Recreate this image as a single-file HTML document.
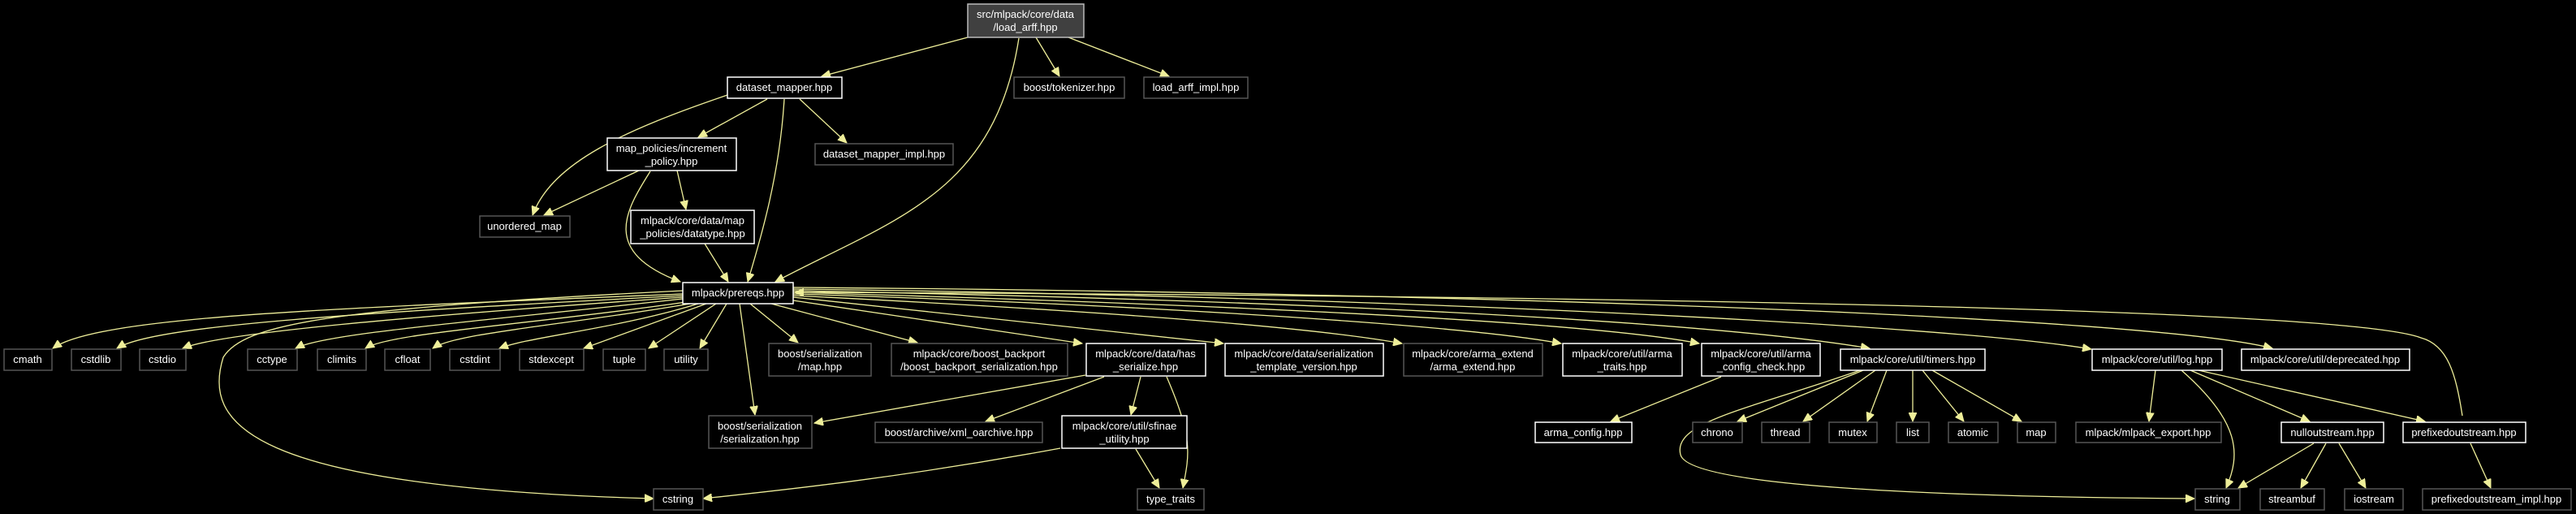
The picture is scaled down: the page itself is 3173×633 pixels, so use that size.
<!DOCTYPE html>
<html><head><meta charset="utf-8"><style>
html,body{margin:0;padding:0;background:#000;}
svg{display:block;}
text{font-family:"Liberation Sans",sans-serif;font-size:13px;fill:#fff;text-anchor:middle;}
.d{fill:#000;stroke:#fff;stroke-width:1.5;}
.u{fill:#000;stroke:#555;stroke-width:1.5;}
path{fill:none;stroke:#eeee99;stroke-width:1.3;}
</style></head><body>
<svg width="3173" height="633" viewBox="0 0 3173 633" xmlns="http://www.w3.org/2000/svg">
<defs><marker id="a" markerUnits="userSpaceOnUse" markerWidth="12" markerHeight="10" refX="11" refY="5" orient="auto"><path d="M0,0 L11,5 L0,10 Z" style="fill:#eeee99;stroke:#eeee99;stroke-width:1"/></marker></defs>
<g marker-end="url(#a)">
<path d="M1192,46 L1012,94"/>
<path d="M1276,46 L1305,94"/>
<path d="M1316,46 L1440,94"/>
<path d="M1255,47 C1225,240 1100,270 955,347"/>
<path d="M896,117 C770,160 680,200 656,265"/>
<path d="M945,122 L860,169"/>
<path d="M966,122 C960,220 935,300 921,347"/>
<path d="M985,122 L1043,176"/>
<path d="M787,210 L670,265"/>
<path d="M801,211 C770,260 740,310 838,347"/>
<path d="M834,210 L845,258"/>
<path d="M868,300 L897,347"/>
<!-- prereqs to row 3 -->
<path d="M841,362 C400,380 120,390 65,429"/>
<path d="M841,364 C450,385 190,400 144,429"/>
<path d="M841,366 C500,390 270,410 225,429"/>
<path d="M841,368 C600,395 400,410 364,429"/>
<path d="M845,372 C650,400 480,410 450,429"/>
<path d="M850,374 C700,400 560,410 533,429"/>
<path d="M860,374 C760,405 650,415 615,429"/>
<path d="M870,374 L719,429"/>
<path d="M882,374 L799,429"/>
<path d="M895,374 L862,429"/>
<path d="M924,374 L983,422"/>
<path d="M950,374 L1130,422"/>
<path d="M977,370 L1333,423"/>
<path d="M977,366 C1200,390 1400,410 1507,423"/>
<path d="M977,364 C1300,380 1600,400 1727,423"/>
<path d="M977,362 C1400,375 1800,400 1923,423"/>
<path d="M977,360 C1500,375 1950,395 2093,423"/>
<path d="M977,358 C1600,370 2100,395 2303,429"/>
<path d="M977,356 C1700,365 2400,400 2576,430"/>
<path d="M977,354 C1800,360 2650,390 2799,429"/>
<path d="M3033,512 C3025,460 3015,425 2982,416 C2900,385 2200,365 979,360"/>
<path d="M841,358 C400,380 300,400 275,440 C250,520 300,600 805,614"/>
<path d="M911,374 L930,511"/>
<!-- row3 to row4 -->
<path d="M1337,462 L1003,521"/>
<path d="M1360,464 L1214,519"/>
<path d="M1405,464 L1393,511"/>
<path d="M1437,464 C1470,540 1465,560 1457,601"/>
<path d="M1306,552 C1100,590 950,605 866,614"/>
<path d="M1399,553 L1428,601"/>
<path d="M2120,464 L1984,519"/>
<path d="M2295,456 L2140,519"/>
<path d="M2310,456 L2221,519"/>
<path d="M2324,456 L2300,519"/>
<path d="M2356,456 L2356,519"/>
<path d="M2368,456 L2419,519"/>
<path d="M2380,456 L2490,519"/>
<path d="M2291,456 C2150,505 2060,520 2070,560 C2080,600 2400,612 2703,614"/>
<path d="M2655,456 L2647,519"/>
<path d="M2687,456 C2760,520 2760,560 2742,601"/>
<path d="M2698,456 L2845,519"/>
<path d="M2708,456 L2987,519"/>
<path d="M2850,546 L2757,601"/>
<path d="M2865,546 L2834,601"/>
<path d="M2881,546 L2914,601"/>
<path d="M3043,546 L3068,601"/>
</g>
<!-- nodes -->
<rect x="1192" y="5" width="143" height="41" style="fill:#404040;stroke:#bbb;stroke-width:1.5"/><text x="1263" y="22">src/mlpack/core/data</text><text x="1263" y="38">/load_arff.hpp</text>
<rect class="d" x="896" y="95" width="141" height="26"/><text x="966" y="112">dataset_mapper.hpp</text>
<rect class="u" x="1249" y="95" width="136" height="26"/><text x="1317" y="112">boost/tokenizer.hpp</text>
<rect class="u" x="1409" y="95" width="128" height="26"/><text x="1473" y="112">load_arff_impl.hpp</text>
<rect class="d" x="748" y="170" width="159" height="40"/><text x="827" y="187">map_policies/increment</text><text x="827" y="203">_policy.hpp</text>
<rect class="u" x="1004" y="177" width="170" height="26"/><text x="1089" y="194">dataset_mapper_impl.hpp</text>
<rect class="u" x="591" y="266" width="111" height="26"/><text x="646" y="283">unordered_map</text>
<rect class="d" x="777" y="259" width="152" height="41"/><text x="853" y="276">mlpack/core/data/map</text><text x="853" y="292">_policies/datatype.hpp</text>
<rect class="d" x="841" y="348" width="136" height="26"/><text x="909" y="365">mlpack/prereqs.hpp</text>
<rect class="u" x="5" y="430" width="59" height="26"/><text x="34" y="447">cmath</text>
<rect class="u" x="88" y="430" width="61" height="26"/><text x="118" y="447">cstdlib</text>
<rect class="u" x="172" y="430" width="57" height="26"/><text x="200" y="447">cstdio</text>
<rect class="u" x="305" y="430" width="61" height="26"/><text x="335" y="447">cctype</text>
<rect class="u" x="391" y="430" width="60" height="26"/><text x="421" y="447">climits</text>
<rect class="u" x="474" y="430" width="56" height="26"/><text x="502" y="447">cfloat</text>
<rect class="u" x="554" y="430" width="62" height="26"/><text x="585" y="447">cstdint</text>
<rect class="u" x="640" y="430" width="79" height="26"/><text x="679" y="447">stdexcept</text>
<rect class="u" x="743" y="430" width="52" height="26"/><text x="769" y="447">tuple</text>
<rect class="u" x="818" y="430" width="54" height="26"/><text x="845" y="447">utility</text>
<rect class="u" x="947" y="423" width="126" height="40"/><text x="1010" y="440">boost/serialization</text><text x="1010" y="456">/map.hpp</text>
<rect class="u" x="1098" y="423" width="217" height="40"/><text x="1206" y="440">mlpack/core/boost_backport</text><text x="1206" y="456">/boost_backport_serialization.hpp</text>
<rect class="d" x="1338" y="423" width="147" height="40"/><text x="1411" y="440">mlpack/core/data/has</text><text x="1411" y="456">_serialize.hpp</text>
<rect class="d" x="1509" y="423" width="195" height="40"/><text x="1606" y="440">mlpack/core/data/serialization</text><text x="1606" y="456">_template_version.hpp</text>
<rect class="u" x="1729" y="423" width="171" height="40"/><text x="1814" y="440">mlpack/core/arma_extend</text><text x="1814" y="456">/arma_extend.hpp</text>
<rect class="d" x="1925" y="423" width="147" height="40"/><text x="1998" y="440">mlpack/core/util/arma</text><text x="1998" y="456">_traits.hpp</text>
<rect class="d" x="2096" y="423" width="146" height="40"/><text x="2169" y="440">mlpack/core/util/arma</text><text x="2169" y="456">_config_check.hpp</text>
<rect class="d" x="2267" y="430" width="178" height="26"/><text x="2356" y="447">mlpack/core/util/timers.hpp</text>
<rect class="d" x="2577" y="430" width="160" height="26"/><text x="2657" y="447">mlpack/core/util/log.hpp</text>
<rect class="d" x="2761" y="430" width="207" height="26"/><text x="2864" y="447">mlpack/core/util/deprecated.hpp</text>
<rect class="u" x="873" y="512" width="127" height="40"/><text x="936" y="529">boost/serialization</text><text x="936" y="545">/serialization.hpp</text>
<rect class="u" x="1078" y="520" width="206" height="25"/><text x="1181" y="537">boost/archive/xml_oarchive.hpp</text>
<rect class="d" x="1308" y="512" width="154" height="40"/><text x="1385" y="529">mlpack/core/util/sfinae</text><text x="1385" y="545">_utility.hpp</text>
<rect class="d" x="1891" y="520" width="119" height="25"/><text x="1950" y="537">arma_config.hpp</text>
<rect class="u" x="2085" y="520" width="61" height="25"/><text x="2115" y="537">chrono</text>
<rect class="u" x="2170" y="520" width="59" height="25"/><text x="2199" y="537">thread</text>
<rect class="u" x="2253" y="520" width="59" height="25"/><text x="2282" y="537">mutex</text>
<rect class="u" x="2336" y="520" width="40" height="25"/><text x="2356" y="537">list</text>
<rect class="u" x="2400" y="520" width="61" height="25"/><text x="2430" y="537">atomic</text>
<rect class="u" x="2485" y="520" width="47" height="25"/><text x="2508" y="537">map</text>
<rect class="u" x="2557" y="520" width="179" height="25"/><text x="2646" y="537">mlpack/mlpack_export.hpp</text>
<rect class="d" x="2810" y="520" width="126" height="25"/><text x="2873" y="537">nulloutstream.hpp</text>
<rect class="d" x="2960" y="520" width="151" height="25"/><text x="3035" y="537">prefixedoutstream.hpp</text>
<rect class="u" x="805" y="602" width="61" height="26"/><text x="835" y="619">cstring</text>
<rect class="u" x="1401" y="602" width="82" height="26"/><text x="1442" y="619">type_traits</text>
<rect class="u" x="2704" y="602" width="55" height="26"/><text x="2731" y="619">string</text>
<rect class="u" x="2784" y="602" width="79" height="26"/><text x="2823" y="619">streambuf</text>
<rect class="u" x="2888" y="602" width="72" height="26"/><text x="2924" y="619">iostream</text>
<rect class="u" x="2984" y="602" width="183" height="26"/><text x="3075" y="619">prefixedoutstream_impl.hpp</text>
</svg>
</body></html>
